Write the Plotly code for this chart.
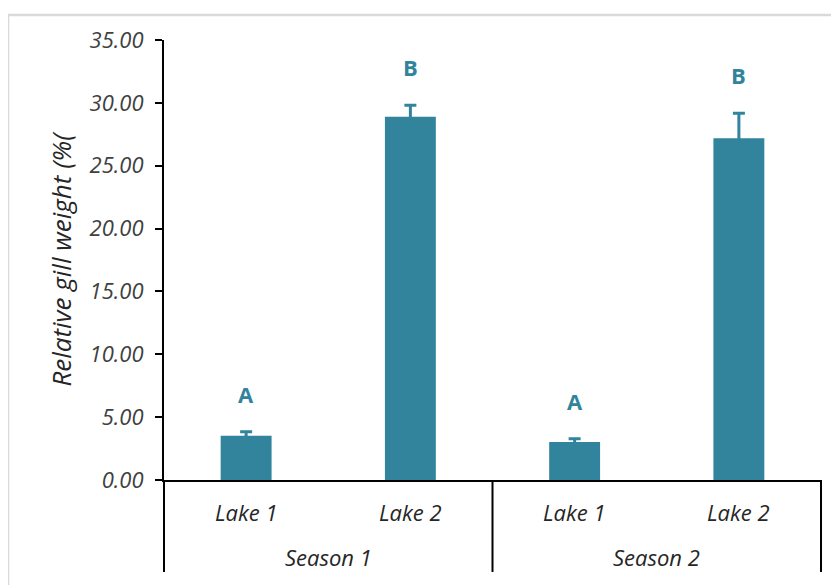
import plotly.graph_objects as go

seasons = ["Season 1", "Season 1", "Season 2", "Season 2"]
lakes = ["Lake 1", "Lake 2", "Lake 1", "Lake 2"]
season_names = ["Season 1", "Season 2"]
values = [3.52, 28.9, 3.02, 27.18]
errors = [0.32, 0.9, 0.27, 2.0]
letters = ["A", "B", "A", "B"]
y_ticks = [0, 5, 10, 15, 20, 25, 30, 35]

BAR = "#31849B"
FONT = "Open Sans"
LABEL_FONT = dict(family=FONT, size=22, color="#262626", style="italic")

fig = go.Figure()
fig.add_trace(go.Bar(
    x=[seasons, lakes], y=values,
    marker=dict(color=BAR, line=dict(width=0)),
    error_y=dict(type="data", array=errors, visible=True,
                 color=BAR, thickness=3, width=6),
    width=0.31,
))

for i, (v, e, t) in enumerate(zip(values, errors, letters)):
    fig.add_annotation(x=i, y=v + e, text=f"<b>{t}</b>", showarrow=False,
                       yshift=38, font=dict(family=FONT, size=22, color=BAR))

# category labels
for i, lk in enumerate(lakes):
    fig.add_annotation(x=i, y=0, yref="paper", text=lk, showarrow=False,
                       yanchor="middle", yshift=-32, font=LABEL_FONT)
for j, s in enumerate(season_names):
    fig.add_annotation(x=2 * j + 0.5, y=0, yref="paper", text=s, showarrow=False,
                       yanchor="middle", yshift=-77, font=LABEL_FONT)

# frame / divider lines
line = dict(color="black", width=2)
for xp in [0, 0.5, 1]:
    fig.add_shape(type="line", xref="paper", yref="paper", x0=xp, x1=xp,
                  y0=0, y1=-0.209, line=line)
fig.add_shape(type="rect", xref="paper", yref="paper", x0=-0.2374, x1=1.1,
              y0=-0.3, y1=1.0568, line=dict(color="#D9D9D9", width=2.5), layer="below")

fig.update_layout(
    width=839, height=585,
    margin=dict(l=156, r=26, t=32, b=113),
    paper_bgcolor="white", plot_bgcolor="white",
    showlegend=False,
    font=dict(family=FONT, color="#404040"),
    xaxis=dict(
        type="multicategory", showline=True, linecolor="black", linewidth=2,
        ticks="", showdividers=False, showgrid=False, showticklabels=False,
        automargin=False,
    ),
    yaxis=dict(
        range=[0, 35], tickvals=y_ticks, tickformat=".2f",
        showline=True, linecolor="black", linewidth=2,
        ticks="outside", ticklen=7, tickwidth=2, tickcolor="black",
        ticklabelstandoff=7,
        showgrid=False, zeroline=False, automargin=False,
        tickfont=dict(family=FONT, size=22, color="#404040", style="italic"),
        title=dict(text="Relative gill weight (%(", standoff=10,
                   font=dict(family=FONT, size=26, color="#262626", style="italic")),
    ),
)

fig.write_html("out.html")
